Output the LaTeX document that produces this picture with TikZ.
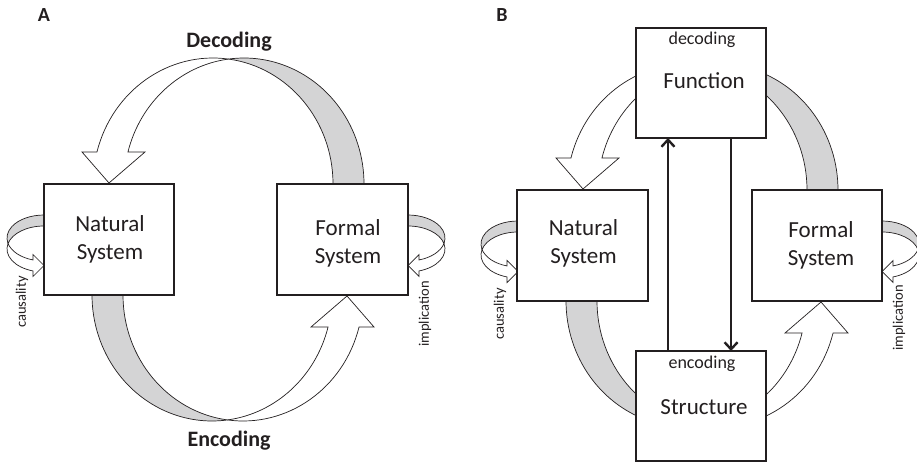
\documentclass[tikz,border=0pt]{standalone}
\usepackage{fontspec}
\setmainfont{Carlito}
\usetikzlibrary{arrows.meta,calc}
\definecolor{ribfill}{RGB}{212,212,213}
\definecolor{inkc}{RGB}{35,31,32}
\tikzset{
  ribwhite/.style={fill=white, draw=inkc, line width=0.7pt, line join=miter},
  ribgray/.style={fill=ribfill, draw=inkc, line width=0.7pt},
  sysbox/.style={draw=inkc, fill=white, line width=1.1pt, minimum width=130pt, minimum height=111pt, inner sep=0pt, outer sep=0pt},
  boxlabel/.style={font=\fontsize{23}{28}\selectfont, align=center, text=inkc, inner sep=0pt},
  smalllabel/.style={font=\fontsize{18}{22}\selectfont, text=inkc, inner sep=0pt},
  headlabel/.style={font=\fontsize{22}{26}\selectfont\bfseries, text=inkc, inner sep=0pt},
  panellabel/.style={font=\fontsize{20}{24}\selectfont\bfseries, text=inkc, inner sep=0pt},
  sidelabel/.style={font=\fontsize{14.5}{17}\selectfont, text=inkc, rotate=90, inner sep=0pt},
  vline/.style={draw=inkc, line width=2.4pt, -{Straight Barb[length=7pt,width=13pt]}}
}
\newcommand{\DecRibbon}{%
  \filldraw[ribwhite] (228.5,-59.06) arc[start angle=82.58, end angle=165.3, x radius=120pt, y radius=126pt]
    -- (82,-152) -- (109,-183) -- (145,-152) -- (127.93,-152.03)
    arc[start angle=165.3, end angle=97.42, x radius=120pt, y radius=126pt] -- cycle;
  \filldraw[ribgray] (228.5,-59.06) arc[start angle=97.42, end angle=0, x radius=120pt, y radius=126pt]
    -- (333,-184) arc[start angle=0, end angle=82.58, x radius=120pt, y radius=126pt] -- cycle;
}
\newcommand{\LoopRibbon}{%
  \filldraw[ribgray] (44,-215) arc[start angle=90, end angle=193.83, x radius=37pt, y radius=23pt]
    arc[start angle=166.17, end angle=90, x radius=37pt, y radius=23pt] -- cycle;
  \filldraw[ribwhite] (8.07,-243.5) arc[start angle=193.83, end angle=252.7, x radius=37pt, y radius=23pt]
    -- (33,-254.5) -- (44,-265.5) -- (33,-276.5) -- (33,-270.96)
    arc[start angle=252.7, end angle=166.17, x radius=37pt, y radius=23pt] -- cycle;
}
\newcommand{\RibbonSet}{%
  \DecRibbon
  \begin{scope}[rotate around={180:(228,-239.5)}]\DecRibbon\end{scope}
  \LoopRibbon
  \begin{scope}[shift={(452,0)}, xscale=-1]\LoopRibbon\end{scope}
}
\begin{document}
\begin{tikzpicture}[x=1pt, y=1pt]
\useasboundingbox (0,0) rectangle (917,-462);
% ribbons
\RibbonSet
\begin{scope}[shift={(474,-6)}]\RibbonSet\end{scope}
% boxes
\node[sysbox] (natA) at (109,-239.5) {};
\node[sysbox, minimum width=131pt] (forA) at (342.5,-239.5) {};
\node[sysbox, minimum width=131pt] (natB) at (582.5,-245.5) {};
\node[sysbox] (forB) at (817,-245.5) {};
\node[sysbox, minimum height=110pt] (funB) at (701,-83) {};
\node[sysbox, minimum height=110pt] (strB) at (701,-406) {};
% box texts
\node[boxlabel] (natAt) at ($(natA.center)+(1,0)$) {Natural\\System};
\node[boxlabel] (forAt) at ($(forA.center)+(5.5,-4)$) {Formal\\System};
\node[boxlabel] (natBt) at ($(natB.center)+(1,2)$) {Natural\\System};
\node[boxlabel] (forBt) at ($(forB.center)+(4,0)$) {Formal\\System};
\node[boxlabel, anchor=base] (funBt) at (704,-89) {Function};
\node[boxlabel, anchor=base] (strBt) at (704,-414) {Structure};
\node[smalllabel, anchor=base] (decB) at (702,-45) {decoding};
\node[smalllabel, anchor=base] (encB) at (702,-368) {encoding};
% headings
\node[headlabel, anchor=base] (decA) at (229,-48) {Decoding};
\node[headlabel, anchor=base] (encA) at (229,-446) {Encoding};
\node[panellabel, anchor=base] (pA) at (44,-22) {A};
\node[panellabel, anchor=base] (pB) at (502,-22) {B};
% side labels
\node[sidelabel] (causA) at (22,-302) {causality};
\node[sidelabel] (implA) at (425,-314) {implication};
\node[sidelabel] (causB) at (500,-314) {causality};
\node[sidelabel] (implB) at (899,-318) {implication};
% vertical arrows
\draw[vline] ($(strB.north west)!0.246!(strB.north east)$) -- ($(funB.south west)!0.246!(funB.south east)$);
\draw[vline] ($(funB.south west)!0.731!(funB.south east)$) -- ($(strB.north west)!0.731!(strB.north east)$);
\end{tikzpicture}
\end{document}
